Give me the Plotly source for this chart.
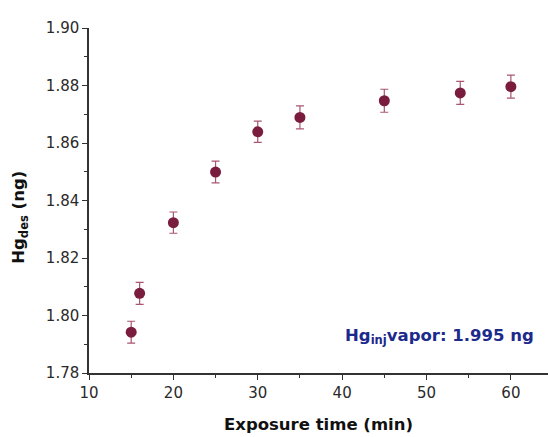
import plotly.graph_objects as go

exposure_min = [15, 16, 20, 25, 30, 35, 45, 54, 60]
hg_des_ng = [1.7942, 1.8077, 1.8323, 1.8499, 1.8639, 1.8689, 1.8747, 1.8774, 1.8796]
err_ng = [0.0038, 0.0038, 0.0037, 0.0038, 0.0037, 0.0040, 0.0040, 0.0040, 0.0040]

FONT = "DejaVu Sans, Liberation Sans, Arial"

fig = go.Figure()
fig.add_trace(go.Scatter(
    x=exposure_min, y=hg_des_ng, mode="markers",
    marker=dict(color="#7a1c3e", size=11, line=dict(width=0)),
    error_y=dict(type="data", array=err_ng, visible=True, color="#a8566f", thickness=1.2, width=4),
    showlegend=False,
))

axis_common = dict(
    showline=True, linecolor="#333333", linewidth=1.5, showgrid=False, zeroline=False,
    ticks="outside", ticklen=5, tickwidth=1.3, tickcolor="#333333",
    tickfont=dict(family=FONT, size=15, color="#2a2a2a"),
)
fig.update_xaxes(
    range=[10, 64.4], tickmode="array", tickvals=[10, 20, 30, 40, 50, 60],
    minor=dict(ticks="outside", ticklen=3, tickwidth=1.2, tickcolor="#333333", dtick=5, tick0=10),
    title=dict(text="<b>Exposure time (min)</b>", font=dict(family=FONT, size=16.5, color="#111111"), standoff=18),
    **axis_common,
)
fig.update_yaxes(
    range=[1.78, 1.90], tickmode="array", tickvals=[1.78, 1.80, 1.82, 1.84, 1.86, 1.88, 1.90],
    ticktext=["1.78", "1.80", "1.82", "1.84", "1.86", "1.88", "1.90"],
    minor=dict(ticks="outside", ticklen=3, tickwidth=1.2, tickcolor="#333333", dtick=0.01, tick0=1.78),
    **axis_common,
)
fig.add_annotation(
    x=0, y=0.45, xref="paper", yref="paper", xanchor="center", yanchor="middle", showarrow=False,
    xshift=-69, textangle=-90,
    text="<b>Hg<sub>des</sub> (ng)</b>",
    font=dict(family=FONT, size=16.5, color="#111111"),
)
fig.add_annotation(
    x=1.0, y=0.105, xref="paper", yref="paper", xanchor="right", yanchor="middle", showarrow=False,
    xshift=-12,
    text="<b>Hg<sub>inj</sub>vapor: 1.995 ng</b>",
    font=dict(family=FONT, size=16.5, color="#1c2a8c"),
)
fig.update_layout(
    width=548, height=437, margin=dict(l=89, r=0, t=28, b=64),
    plot_bgcolor="white", paper_bgcolor="white",
)
fig.write_html("out.html")
